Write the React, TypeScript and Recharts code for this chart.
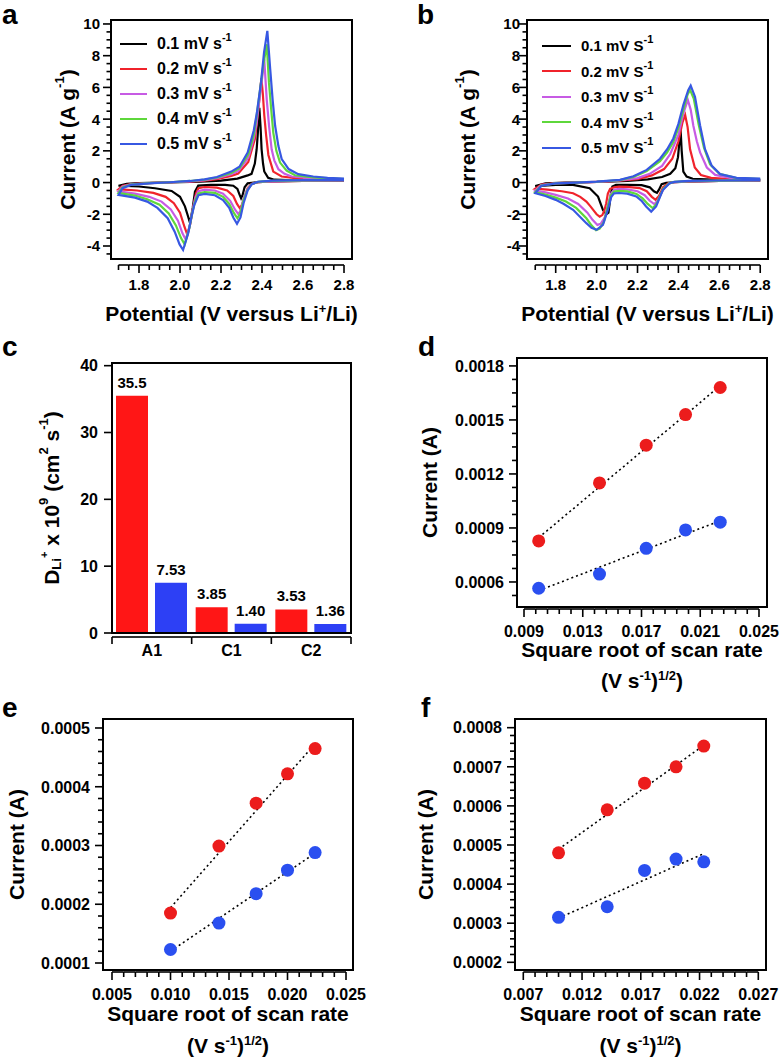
import React from "react";
import { Bar, ComposedChart, LabelList, Legend, Line, LineChart, ReferenceArea, Scatter, XAxis, YAxis } from "recharts";

const FONT = '"Liberation Sans", Arial, Helvetica, sans-serif';
const INK = "#000000";

// scan rates (mV/s) and their trace colours
const RATES = ["0.1", "0.2", "0.3", "0.4", "0.5"];
const CV_COLORS = ["#000000", "#f0232b", "#c75be4", "#5ed73b", "#3758e2"];

// panel a, [V, A/g]: cathodic sweep 2.8 -> 1.7, then anodic back to 2.8
const A_01 = [[2.8, 0.12], [2.6, 0.1], [2.45, 0.07], [2.38, 0.03], [2.33, -0.05], [2.315, -0.3], [2.305, -0.8], [2.298, -0.99], [2.29, -0.75], [2.28, -0.4], [2.26, -0.2], [2.22, -0.15], [2.15, -0.15], [2.089, -0.19], [2.073, -0.57], [2.062, -1.6], [2.049, -2.55], [2.036, -2.0], [2.024, -1.5], [2.0, -0.9], [1.959, -0.53], [1.878, -0.36], [1.8, -0.25], [1.7, -0.2],
  [1.74, -0.08], [1.8, -0.04], [1.9, 0.0], [2.0, 0.03], [2.1, 0.06], [2.2, 0.12], [2.28, 0.25], [2.33, 0.45], [2.349, 0.55], [2.365, 1.2], [2.374, 2.1], [2.38, 3.2], [2.387, 4.72], [2.393, 3.5], [2.398, 2.1], [2.405, 1.2], [2.411, 0.7], [2.43, 0.3], [2.46, 0.18], [2.6, 0.13], [2.8, 0.12]];
const A_02 = [[2.8, 0.13], [2.6, 0.11], [2.45, 0.07], [2.38, 0.02], [2.35, -0.08], [2.33, -0.35], [2.315, -0.9], [2.302, -1.4], [2.292, -1.62], [2.278, -1.35], [2.26, -0.85], [2.23, -0.5], [2.18, -0.32], [2.12, -0.28], [2.09, -0.35], [2.078, -0.7], [2.065, -1.5], [2.05, -2.6], [2.036, -3.3], [2.022, -2.8], [2.0, -1.9], [1.97, -1.3], [1.93, -0.9], [1.87, -0.65], [1.79, -0.5], [1.7, -0.42],
  [1.72, -0.2], [1.76, -0.1], [1.85, -0.03], [1.95, 0.02], [2.05, 0.06], [2.12, 0.12], [2.18, 0.22], [2.25, 0.42], [2.284, 0.57], [2.333, 1.3], [2.366, 2.78], [2.386, 5.1], [2.397, 6.58], [2.404, 5.6], [2.411, 4.26], [2.42, 3.0], [2.431, 1.74], [2.455, 0.69], [2.496, 0.38], [2.6, 0.22], [2.8, 0.15]];
const A_03 = [[2.8, 0.14], [2.6, 0.12], [2.45, 0.08], [2.38, 0.03], [2.35, -0.1], [2.33, -0.4], [2.31, -1.0], [2.298, -1.7], [2.285, -2.0], [2.268, -1.7], [2.245, -1.15], [2.21, -0.7], [2.17, -0.5], [2.12, -0.45], [2.09, -0.55], [2.075, -0.95], [2.062, -1.7], [2.048, -2.7], [2.028, -3.6], [2.012, -3.2], [1.99, -2.4], [1.955, -1.7], [1.91, -1.2], [1.85, -0.9], [1.78, -0.7], [1.7, -0.55],
  [1.72, -0.25], [1.76, -0.12], [1.85, -0.04], [1.95, 0.02], [2.05, 0.08], [2.12, 0.15], [2.18, 0.28], [2.25, 0.52], [2.284, 0.72], [2.333, 1.57], [2.36, 2.8], [2.374, 3.78], [2.385, 5.0], [2.398, 6.3], [2.411, 7.77], [2.423, 5.25], [2.435, 3.5], [2.447, 2.1], [2.46, 1.4], [2.48, 0.84], [2.51, 0.55], [2.545, 0.38], [2.65, 0.26], [2.8, 0.2]];
const A_04 = [[2.8, 0.15], [2.6, 0.14], [2.45, 0.1], [2.38, 0.04], [2.35, -0.1], [2.33, -0.45], [2.31, -1.1], [2.295, -1.9], [2.28, -2.25], [2.262, -1.9], [2.24, -1.35], [2.21, -0.9], [2.17, -0.65], [2.12, -0.6], [2.09, -0.68], [2.075, -1.1], [2.06, -1.9], [2.045, -2.9], [2.023, -3.9], [2.005, -3.5], [1.98, -2.7], [1.945, -1.95], [1.9, -1.4], [1.84, -1.05], [1.78, -0.82], [1.7, -0.65],
  [1.72, -0.3], [1.76, -0.13], [1.85, -0.04], [1.95, 0.02], [2.05, 0.1], [2.12, 0.18], [2.18, 0.32], [2.25, 0.6], [2.29, 0.9], [2.333, 1.78], [2.36, 3.0], [2.374, 4.2], [2.39, 5.8], [2.406, 7.36], [2.423, 8.72], [2.434, 6.3], [2.445, 4.6], [2.455, 3.15], [2.47, 2.0], [2.488, 1.26], [2.52, 0.75], [2.561, 0.46], [2.65, 0.33], [2.8, 0.22]];
const A_05 = [[2.8, 0.15], [2.6, 0.15], [2.45, 0.12], [2.38, 0.05], [2.35, -0.1], [2.33, -0.5], [2.31, -1.3], [2.295, -2.2], [2.278, -2.6], [2.26, -2.2], [2.24, -1.6], [2.21, -1.1], [2.17, -0.8], [2.12, -0.72], [2.09, -0.8], [2.07, -1.4], [2.056, -2.15], [2.04, -3.2], [2.015, -4.25], [1.998, -3.9], [1.974, -3.1], [1.94, -2.25], [1.89, -1.6], [1.84, -1.2], [1.78, -0.95], [1.7, -0.78],
  [1.72, -0.35], [1.76, -0.15], [1.85, -0.05], [1.95, 0.02], [2.05, 0.1], [2.12, 0.2], [2.18, 0.35], [2.25, 0.69], [2.29, 1.0], [2.33, 1.9], [2.36, 3.3], [2.375, 4.4], [2.395, 6.3], [2.41, 8.2], [2.426, 9.56], [2.44, 7.15], [2.452, 5.2], [2.464, 3.58], [2.48, 2.3], [2.496, 1.48], [2.53, 0.85], [2.577, 0.53], [2.65, 0.38], [2.72, 0.3], [2.8, 0.25]];

// panel b, same layout
const B_01 = [[2.8, 0.12], [2.6, 0.1], [2.45, 0.06], [2.38, 0.02], [2.34, -0.02], [2.318, -0.1], [2.305, -0.45], [2.295, -0.65], [2.28, -0.55], [2.26, -0.3], [2.22, -0.16], [2.15, -0.14], [2.095, -0.15], [2.077, -0.25], [2.068, -0.88], [2.058, -1.9], [2.05, -1.98], [2.044, -1.93], [2.031, -1.72], [2.007, -0.88], [1.966, -0.36], [1.885, -0.15], [1.8, -0.14], [1.7, -0.22],
  [1.75, -0.05], [1.85, 0.0], [1.95, 0.02], [2.05, 0.05], [2.15, 0.1], [2.25, 0.2], [2.32, 0.35], [2.36, 0.55], [2.385, 0.9], [2.398, 1.6], [2.405, 2.6], [2.41, 3.52], [2.416, 2.0], [2.424, 0.69], [2.44, 0.38], [2.47, 0.24], [2.6, 0.17], [2.8, 0.15]];
const B_02 = [[2.8, 0.13], [2.6, 0.1], [2.45, 0.07], [2.38, 0.02], [2.35, -0.05], [2.325, -0.3], [2.305, -0.85], [2.288, -1.09], [2.27, -0.9], [2.245, -0.55], [2.21, -0.35], [2.15, -0.27], [2.11, -0.26], [2.085, -0.3], [2.066, -0.4], [2.055, -0.7], [2.047, -1.3], [2.039, -1.72], [2.028, -2.05], [2.015, -2.15], [2.0, -2.0], [1.99, -1.83], [1.97, -1.5], [1.95, -1.2], [1.92, -0.9], [1.885, -0.67], [1.83, -0.55], [1.76, -0.45], [1.7, -0.38],
  [1.73, -0.12], [1.8, -0.04], [1.9, 0.0], [2.0, 0.04], [2.1, 0.1], [2.2, 0.22], [2.27, 0.45], [2.33, 0.85], [2.37, 1.5], [2.4, 2.6], [2.42, 3.8], [2.433, 4.26], [2.445, 3.5], [2.457, 2.1], [2.48, 0.95], [2.51, 0.48], [2.56, 0.3], [2.65, 0.22], [2.8, 0.16]];
const B_03 = [[2.8, 0.14], [2.6, 0.11], [2.45, 0.08], [2.38, 0.03], [2.355, -0.05], [2.33, -0.35], [2.3, -1.1], [2.282, -1.36], [2.26, -1.15], [2.235, -0.8], [2.2, -0.55], [2.15, -0.43], [2.11, -0.4], [2.085, -0.45], [2.07, -0.7], [2.055, -1.4], [2.04, -2.2], [2.02, -2.6], [2.004, -2.67], [1.98, -2.35], [1.955, -1.9], [1.91, -1.35], [1.86, -1.0], [1.8, -0.78], [1.75, -0.62], [1.7, -0.5],
  [1.73, -0.15], [1.8, -0.05], [1.9, 0.0], [2.0, 0.04], [2.1, 0.12], [2.2, 0.28], [2.26, 0.55], [2.32, 1.05], [2.36, 1.8], [2.4, 3.0], [2.425, 4.4], [2.446, 5.21], [2.46, 4.6], [2.473, 3.58], [2.49, 2.6], [2.506, 1.9], [2.539, 0.95], [2.58, 0.48], [2.66, 0.27], [2.8, 0.17]];
const B_04 = [[2.8, 0.15], [2.6, 0.12], [2.45, 0.09], [2.38, 0.04], [2.355, -0.05], [2.325, -0.4], [2.295, -1.3], [2.275, -1.62], [2.25, -1.35], [2.225, -1.0], [2.195, -0.72], [2.15, -0.56], [2.11, -0.52], [2.085, -0.56], [2.07, -0.8], [2.055, -1.5], [2.035, -2.5], [2.015, -2.9], [1.997, -3.0], [1.975, -2.7], [1.95, -2.25], [1.9, -1.6], [1.85, -1.2], [1.8, -0.95], [1.75, -0.75], [1.7, -0.6],
  [1.73, -0.18], [1.8, -0.05], [1.9, 0.0], [2.0, 0.05], [2.114, 0.15], [2.18, 0.36], [2.245, 0.72], [2.31, 1.35], [2.345, 1.9], [2.375, 2.55], [2.4, 3.45], [2.424, 4.6], [2.445, 5.55], [2.457, 5.84], [2.475, 5.3], [2.5, 3.6], [2.525, 2.2], [2.555, 1.15], [2.6, 0.55], [2.68, 0.3], [2.8, 0.22]];
const B_05 = [[2.8, 0.15], [2.6, 0.13], [2.45, 0.1], [2.38, 0.04], [2.357, -0.04], [2.324, -0.46], [2.291, -1.51], [2.267, -1.83], [2.242, -1.51], [2.22, -1.15], [2.194, -0.88], [2.15, -0.7], [2.11, -0.66], [2.085, -0.68], [2.072, -0.9], [2.055, -1.72], [2.031, -2.67], [2.0, -2.98], [1.975, -2.85], [1.95, -2.56], [1.885, -1.72], [1.84, -1.35], [1.8, -1.09], [1.75, -0.85], [1.7, -0.67],
  [1.73, -0.2], [1.8, -0.05], [1.9, 0.0], [2.0, 0.06], [2.114, 0.17], [2.18, 0.4], [2.245, 0.8], [2.31, 1.5], [2.345, 2.1], [2.375, 2.78], [2.4, 3.7], [2.424, 4.88], [2.448, 5.83], [2.46, 6.11], [2.481, 5.41], [2.506, 3.6], [2.53, 2.1], [2.563, 1.05], [2.604, 0.53], [2.685, 0.3], [2.8, 0.25]];

const CV_A = [A_01, A_02, A_03, A_04, A_05];
const CV_B = [B_01, B_02, B_03, B_04, B_05];

// panel c: diffusion coefficients
const BAR_CATS = ["A1", "C1", "C2"];
const BAR_RED = [35.5, 3.85, 3.53];
const BAR_BLUE = [7.53, 1.4, 1.36];
const BAR_RED_TXT = ["35.5", "3.85", "3.53"];
const BAR_BLUE_TXT = ["7.53", "1.40", "1.36"];

// panels d-f: peak current vs square root of scan rate
const SQRT_RATE = [0.01, 0.01414, 0.01732, 0.02, 0.02236];
const D_RED = [0.000828, 0.00115, 0.00136, 0.00153, 0.00168];
const D_BLUE = [0.000565, 0.000644, 0.000787, 0.000889, 0.000932];
const D_FIT_RED = [[0.01, 0.000846], [0.02236, 0.00169]];
const D_FIT_BLUE = [[0.01, 0.000552], [0.02236, 0.00094]];
const E_RED = [0.000185, 0.000299, 0.000372, 0.000422, 0.000465];
const E_BLUE = [0.000123, 0.000168, 0.000218, 0.000258, 0.000288];
const E_FIT_RED = [[0.01, 0.000194], [0.02236, 0.000473]];
const E_FIT_BLUE = [[0.01, 0.00012], [0.02236, 0.000287]];
const F_RED = [0.00048, 0.00059, 0.000658, 0.0007, 0.000753];
const F_BLUE = [0.000315, 0.000342, 0.000435, 0.000464, 0.000457];
const F_FIT_RED = [[0.01, 0.000489], [0.02236, 0.000755]];
const F_FIT_BLUE = [[0.01, 0.000313], [0.02236, 0.000478]];

const RED = "#ec1c1c";
const BLUE = "#2a4ff0";

const steps = (from: number, to: number, step: number) => {
  const n = Math.round((to - from) / step);
  return Array.from({ length: n + 1 }, (_, k) => +(from + k * step).toFixed(9));
};
const cv = (arr: number[][]) => arr.map(([v, i]) => ({ v, i }));
const xy = (xs: number[], ys: number[]) => xs.map((x, k) => ({ x, y: ys[k] }));
const pairs = (arr: number[][]) => arr.map(([x, y]) => ({ x, y }));

// edge: plot bottom (x ticks) or plot left (y ticks), in chart pixels
type TickCfg = { majors: number[]; fmt: (v: number) => string; tol: number; edge: number; off: number; maj: number; min: number; lab: number; font: number; seg: number; last: number };
const isMajor = (c: TickCfg, v: number) => c.majors.some((m) => Math.abs(m - v) < c.tol);

function makeXTick(c: TickCfg) {
  return (p: any) => {
    const v = p.payload.value;
    const M = isMajor(c, v);
    const y0 = c.edge + c.off;
    return (
      <g>
        {v < c.last - c.tol ? <rect x={p.x} y={y0 - 0.8} width={c.seg} height={1.6} fill={INK} /> : null}
        <rect x={p.x - 0.8} y={y0} width={1.6} height={M ? c.maj : c.min} fill={INK} />
        {M ? <text x={p.x} y={c.edge + c.lab} textAnchor="middle" fontFamily={FONT} fontWeight="bold" fontSize={c.font} fill={INK}>{c.fmt(v)}</text> : null}
      </g>
    );
  };
}

function makeYTick(c: TickCfg) {
  return (p: any) => {
    const v = p.payload.value;
    const M = isMajor(c, v);
    const len = M ? c.maj : c.min;
    return (
      <g>
        <rect x={c.edge - len} y={p.y - 0.8} width={len} height={1.6} fill={INK} />
        {M ? <text x={c.edge - c.lab} y={p.y} dy="0.36em" textAnchor="end" fontFamily={FONT} fontWeight="bold" fontSize={c.font} fill={INK}>{c.fmt(v)}</text> : null}
      </g>
    );
  };
}

function yTitle(cx: number, body: React.ReactNode) {
  return {
    content: (q: any) => {
      const vb = q.viewBox;
      const y = vb.y + vb.height / 2;
      return (
        <text x={cx} y={y} transform={`rotate(-90 ${cx} ${y})`} textAnchor="middle" dominantBaseline="central" fontFamily={FONT} fontWeight="bold" fontSize={21} fill={INK}>{body}</text>
      );
    },
  };
}

function xTitle(lines: { dy: number; body: React.ReactNode }[]) {
  return {
    content: (q: any) => {
      const vb = q.viewBox;
      const cx = vb.x + vb.width / 2;
      return (
        <g>
          {lines.map((l, k) => (
            <text key={k} x={cx} y={vb.y + l.dy} textAnchor="middle" fontFamily={FONT} fontWeight="bold" fontSize={21} fill={INK}>{l.body}</text>
          ))}
        </g>
      );
    },
  };
}

const sup = (s: string, rest: string) => [
  <tspan key="s" dy={-8} fontSize={13}>{s}</tspan>,
  <tspan key="r" dy={8}>{rest}</tspan>,
];

const SCAN_TITLE = [
  { dy: 51, body: "Square root of scan rate" },
  { dy: 83, body: <>{"(V s"}<tspan dy={-8} fontSize={13}>-1</tspan><tspan dy={8}>)</tspan><tspan dy={-8} fontSize={13}>1/2</tspan><tspan dy={8}>)</tspan></> },
];

// plot frame, drawn as a bordered box over the chart's plot area
function Frame({ left, top, w, h }: { left: number; top: number; w: number; h: number }) {
  return <div style={{ position: "absolute", left: left - 1, top: top - 1, width: w + 2, height: h + 2, border: `2px solid ${INK}`, boxSizing: "border-box", pointerEvents: "none" }} />;
}

function CVLegend({ unit, swatch, rowH, font }: { unit: string; swatch: number; rowH: number; font: number }) {
  return (
    <div style={{ fontFamily: FONT, fontWeight: "bold", fontSize: font, color: INK, lineHeight: 1 }}>
      {RATES.map((r, k) => (
        <div key={r} style={{ display: "flex", alignItems: "center", height: rowH, whiteSpace: "nowrap" }}>
          <span style={{ width: swatch, height: 0, flexShrink: 0, borderTop: `2.5px solid ${CV_COLORS[k]}`, marginRight: 10 }} />
          <span>{r} mV {unit}<span style={{ fontSize: 11, position: "relative", top: -8 }}>-1</span></span>
        </div>
      ))}
    </div>
  );
}

const CV_XTICKS = steps(1.7, 2.8, 0.05);
const CV_XMAJ = steps(1.8, 2.8, 0.2);
const CV_YTICKS = steps(-4.5, 10, 0.5);
const CV_YMAJ = steps(-4, 10, 2);
const CV_YDOM: [number, number] = [-4.82, 10.25];

function CVPanel(p: { left: number; curves: number[][][]; xDom: [number, number]; yLab: number; yTitleX: number; unit: string; lgLeft: number; lgTop: number; rowH: number; swatch: number; font: number }) {
  const seg = (241 * 0.05) / (p.xDom[1] - p.xDom[0]);
  const xt = makeXTick({ majors: CV_XMAJ, fmt: (v) => v.toFixed(1), tol: 1e-6, edge: 259, off: 6, maj: 8, min: 5, lab: 31, font: 15, seg, last: 2.8 });
  const yt = makeYTick({ majors: CV_YMAJ, fmt: (v) => String(v), tol: 1e-6, edge: 111, off: 0, maj: 8, min: 4.5, lab: p.yLab, font: 15, seg: 0, last: 10 });
  return (
    <div style={{ position: "absolute", left: p.left, top: 0, width: 360, height: 330 }}>
      <LineChart width={360} height={330} margin={{ top: 20, right: 8, left: 0, bottom: 0 }}>
        <XAxis type="number" dataKey="v" domain={p.xDom} allowDataOverflow ticks={CV_XTICKS} interval={0} tickSize={0} tickMargin={0} axisLine={false} tick={xt} height={71}
          label={xTitle([{ dy: 62, body: <>{"Potential (V versus Li"}{sup("+", "/Li)")}</> }])} />
        <YAxis type="number" domain={CV_YDOM} allowDataOverflow ticks={CV_YTICKS} interval={0} tickSize={0} tickMargin={0} axisLine={false} tick={yt} width={111}
          label={yTitle(p.yTitleX, <>{"Current (A g"}{sup("-1", ")")}</>)} />
        <ReferenceArea x1={p.xDom[0]} x2={p.xDom[1]} y1={CV_YDOM[0]} y2={CV_YDOM[1]} ifOverflow="visible" fill="none" stroke={INK} strokeWidth={2} />
        {p.curves.map((c, k) => (
          <Line key={k} data={cv(c)} dataKey="i" type="linear" stroke={CV_COLORS[k]} strokeWidth={2.2} dot={false} activeDot={false} isAnimationActive={false} />
        ))}
        <Legend layout="vertical" align="center" verticalAlign="middle" wrapperStyle={{ left: p.lgLeft, top: p.lgTop, width: 220, height: p.rowH * 5 }}
          content={() => <CVLegend unit={p.unit} swatch={p.swatch} rowH={p.rowH} font={p.font} />} />
      </LineChart>
      <Frame left={111} top={20} w={241} h={239} />
    </div>
  );
}

function BarPanel() {
  const rows = BAR_CATS.map((cat, k) => ({ cat, red: BAR_RED[k], blue: BAR_BLUE[k], redTxt: BAR_RED_TXT[k], blueTxt: BAR_BLUE_TXT[k] }));
  const band = 239 / BAR_CATS.length;
  const catTick = (p: any) => {
    const y0 = 293 + 4;
    const l = p.x - band / 2;
    const r = p.x + band / 2;
    return (
      <g>
        <rect x={l} y={y0 - 0.8} width={band} height={1.6} fill={INK} />
        <rect x={l - 0.8} y={y0} width={1.6} height={7} fill={INK} />
        {p.index === BAR_CATS.length - 1 ? <rect x={r - 0.8} y={y0} width={1.6} height={7} fill={INK} /> : null}
        <text x={p.x} y={293 + 23} textAnchor="middle" fontFamily={FONT} fontWeight="bold" fontSize={16} fill={INK}>{p.payload.value}</text>
      </g>
    );
  };
  const yt = makeYTick({ majors: [0, 10, 20, 30, 40], fmt: (v) => String(v), tol: 1e-6, edge: 112, off: 0, maj: 8, min: 4, lab: 14, font: 16, seg: 0, last: 40 });
  const lab = { fill: INK, fontFamily: FONT, fontWeight: "bold", fontSize: 15 };
  return (
    <div style={{ position: "absolute", left: 0, top: 340, width: 360, height: 330 }}>
      <ComposedChart width={360} height={330} data={rows} margin={{ top: 23, right: 9, left: 0, bottom: 0 }} barCategoryGap={4} barGap={7}>
        <XAxis dataKey="cat" interval={0} tickSize={0} tickMargin={0} axisLine={false} tick={catTick} height={37} />
        <YAxis type="number" domain={[0, 40.4]} allowDataOverflow ticks={[0, 10, 20, 30, 40]} interval={0} tickSize={0} tickMargin={0} axisLine={false} tick={yt} width={112}
          label={yTitle(51, <>{"D"}<tspan dy={5} fontSize={13}>Li</tspan><tspan dy={-12} fontSize={11}>+</tspan><tspan dy={7}>{" x 10"}</tspan>{sup("9", " (cm")}{sup("2", " s")}{sup("-1", ")")}</>)} />
        <ReferenceArea y1={0} y2={40.4} ifOverflow="visible" fill="none" stroke={INK} strokeWidth={2} />
        <Bar dataKey="red" fill="#ff1616" isAnimationActive={false}>
          <LabelList dataKey="redTxt" position="top" offset={8} style={lab} />
        </Bar>
        <Bar dataKey="blue" fill="#2d40f5" isAnimationActive={false}>
          <LabelList dataKey="blueTxt" position="top" offset={8} style={lab} />
        </Bar>
      </ComposedChart>
      <Frame left={112} top={23} w={239} h={270} />
    </div>
  );
}

type FitCfg = {
  left: number; top: number; h: number; mTop: number; mRight: number; yW: number; xH: number;
  xDom: [number, number]; yDom: [number, number];
  xTicks: number[]; xMaj: number[]; xStep: number; yTicks: number[]; yMaj: number[];
  red: number[]; blue: number[]; fitRed: number[][]; fitBlue: number[][]; yTitleX: number; t: { dy: number; body: React.ReactNode }[];
};

function FitPanel({ c }: { c: FitCfg }) {
  const plotW = 360 - c.mRight - c.yW;
  const bottom = c.h - c.xH;
  const seg = (plotW * c.xStep) / (c.xDom[1] - c.xDom[0]);
  const xt = makeXTick({ majors: c.xMaj, fmt: (v) => v.toFixed(3), tol: 1e-7, edge: bottom, off: 2, maj: 8, min: 5, lab: 30, font: 16, seg, last: c.xTicks[c.xTicks.length - 1] });
  const yt = makeYTick({ majors: c.yMaj, fmt: (v) => v.toFixed(4), tol: 1e-8, edge: c.yW, off: 0, maj: 8, min: 5, lab: 13, font: 16, seg: 0, last: 0 });
  const dot = (color: string) => (s: any) => <circle cx={s.cx} cy={s.cy} r={6.5} fill={color} />;
  return (
    <div style={{ position: "absolute", left: c.left, top: c.top, width: 360, height: c.h }}>
      <ComposedChart width={360} height={c.h} margin={{ top: c.mTop, right: c.mRight, left: 0, bottom: 0 }}>
        <XAxis type="number" dataKey="x" domain={c.xDom} allowDataOverflow ticks={c.xTicks} interval={0} tickSize={0} tickMargin={0} axisLine={false} tick={xt} height={c.xH} label={xTitle(c.t)} />
        <YAxis type="number" dataKey="y" domain={c.yDom} allowDataOverflow ticks={c.yTicks} interval={0} tickSize={0} tickMargin={0} axisLine={false} tick={yt} width={c.yW}
          label={yTitle(c.yTitleX, "Current (A)")} />
        <ReferenceArea x1={c.xDom[0]} x2={c.xDom[1]} y1={c.yDom[0]} y2={c.yDom[1]} ifOverflow="visible" fill="none" stroke={INK} strokeWidth={2} />
        <Scatter data={xy(SQRT_RATE, c.red)} shape={dot(RED)} isAnimationActive={false} />
        <Scatter data={xy(SQRT_RATE, c.blue)} shape={dot(BLUE)} isAnimationActive={false} />
        <Line data={pairs(c.fitRed)} dataKey="y" type="linear" stroke={INK} strokeWidth={1.6} strokeDasharray="2 3" dot={false} activeDot={false} isAnimationActive={false} />
        <Line data={pairs(c.fitBlue)} dataKey="y" type="linear" stroke={INK} strokeWidth={1.6} strokeDasharray="2 3" dot={false} activeDot={false} isAnimationActive={false} />
      </ComposedChart>
      <Frame left={c.yW} top={c.mTop} w={plotW} h={c.h - c.mTop - c.xH} />
    </div>
  );
}

const PANEL_D: FitCfg = {
  left: 416, top: 340, h: 360, mTop: 18, mRight: 9, yW: 101, xH: 93,
  xDom: [0.008523, 0.025545], yDom: [0.000461, 0.001844],
  xTicks: steps(0.009, 0.025, 0.0008), xMaj: steps(0.009, 0.025, 0.004), xStep: 0.0008,
  yTicks: steps(0.000525, 0.0018, 0.000075), yMaj: steps(0.0006, 0.0018, 0.0003),
  red: D_RED, blue: D_BLUE, fitRed: D_FIT_RED, fitBlue: D_FIT_BLUE, yTitleX: 13,
  t: [{ ...SCAN_TITLE[0], dy: 50 }, { ...SCAN_TITLE[1], dy: 81 }],
};
const PANEL_E: FitCfg = {
  left: 0, top: 700, h: 361, mTop: 19, mRight: 7, yW: 103, xH: 91,
  xDom: [0.004231, 0.025598], yDom: [0.0000881, 0.0005153],
  xTicks: steps(0.005, 0.025, 0.001), xMaj: steps(0.005, 0.025, 0.005), xStep: 0.001,
  yTicks: steps(0.0001, 0.0005, 0.00002), yMaj: steps(0.0001, 0.0005, 0.0001),
  red: E_RED, blue: E_BLUE, fitRed: E_FIT_RED, fitBlue: E_FIT_BLUE, yTitleX: 16, t: SCAN_TITLE,
};
const PANEL_F: FitCfg = {
  left: 406, top: 700, h: 361, mTop: 19, mRight: 0, yW: 109, xH: 91,
  xDom: [0.006294, 0.027655], yDom: [0.0001803, 0.0008222],
  xTicks: steps(0.007, 0.027, 0.001), xMaj: steps(0.007, 0.027, 0.005), xStep: 0.001,
  yTicks: steps(0.0002, 0.0008, 0.00002), yMaj: steps(0.0002, 0.0008, 0.0001),
  red: F_RED, blue: F_BLUE, fitRed: F_FIT_RED, fitBlue: F_FIT_BLUE, yTitleX: 19, t: SCAN_TITLE,
};

const LETTERS = [
  { t: "a", x: 2, y: 25 }, { t: "b", x: 417, y: 25 },
  { t: "c", x: 2, y: 357 }, { t: "d", x: 418, y: 357 },
  { t: "e", x: 2, y: 718 }, { t: "f", x: 421, y: 718 },
];

export default function App() {
  return (
    <div style={{ position: "absolute", left: 0, top: 0, width: 782, height: 1061, background: "#fff" }}>
      <style>{".recharts-surface{overflow:visible}.recharts-wrapper{overflow:visible}"}</style>
      <CVPanel left={0} curves={CV_A} xDom={[1.6634, 2.839]} yLab={11} yTitleX={67} unit="s" lgLeft={120} lgTop={32} rowH={24.8} swatch={27} font={16} />
      <CVPanel left={416} curves={CV_B} xDom={[1.6597, 2.838]} yLab={7} yTitleX={51} unit="S" lgLeft={126} lgTop={33} rowH={25.5} swatch={29} font={15} />
      <BarPanel />
      <FitPanel c={PANEL_D} />
      <FitPanel c={PANEL_E} />
      <FitPanel c={PANEL_F} />
      {LETTERS.map((l) => (
        <div key={l.t} style={{ position: "absolute", left: l.x, top: l.y - 24, fontFamily: FONT, fontWeight: "bold", fontSize: 28, lineHeight: "28px", color: INK }}>{l.t}</div>
      ))}
    </div>
  );
}
